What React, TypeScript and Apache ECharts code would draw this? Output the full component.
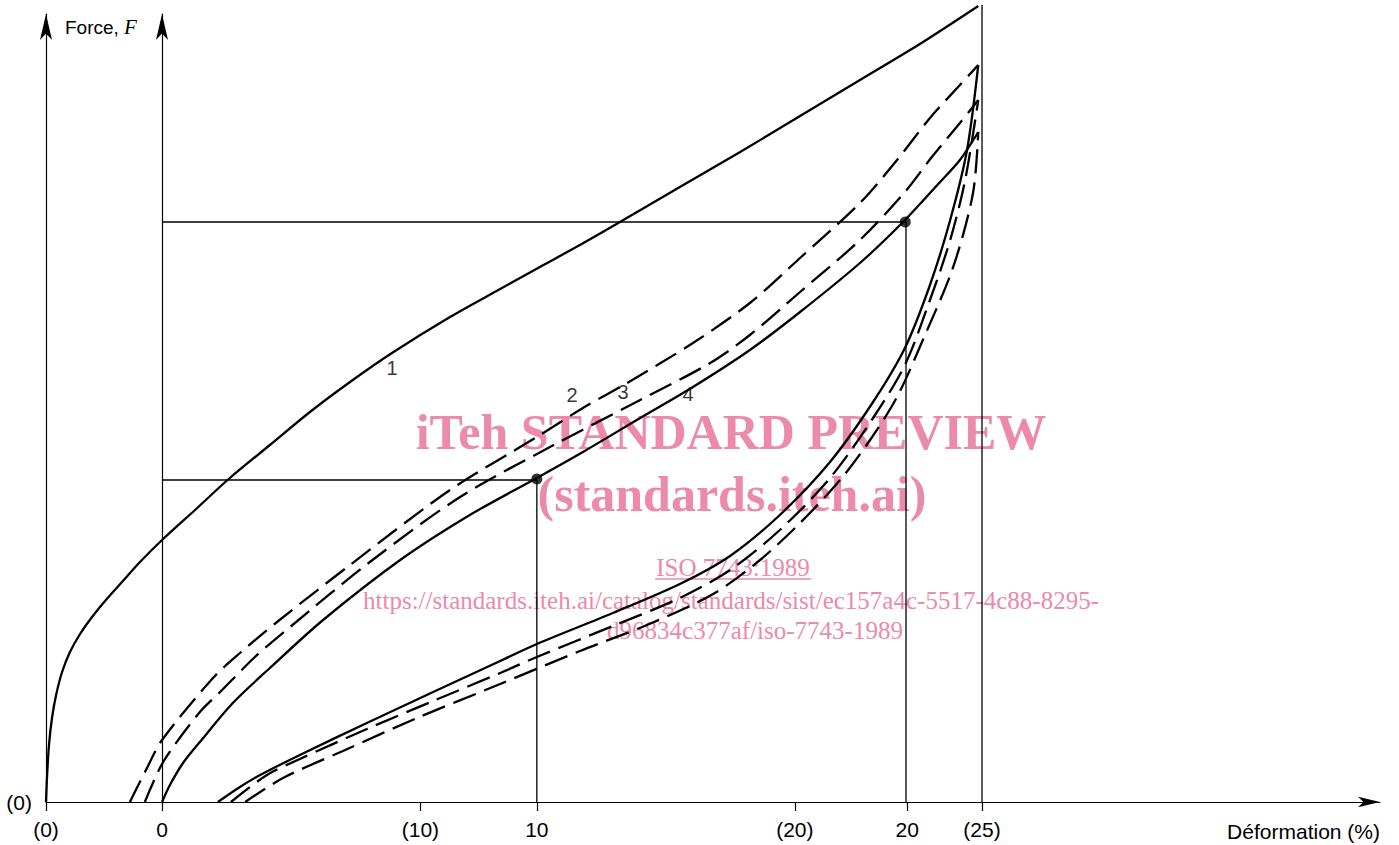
import React, { useEffect, useRef } from "react";
import * as echarts from "echarts";

// x: deformation (%) on the bracketed (outer) scale; y: force (arbitrary units)
const xTickValues = [0, 3.1, 10, 13.11, 20, 23.0, 25];
const xTickLabels = ["(0)", "0", "(10)", "10", "(20)", "20", "(25)"];

const curve1 = [[0,0],[0.03,2.7],[0.08,5.7],[0.16,8.4],[0.27,10.7],[0.43,13.0],[0.64,15.0],[0.91,16.8],[1.23,18.5],[1.60,20.2],[2.03,22.0],[2.51,24.0],[3.10,26.2],[3.98,29.2],[4.91,32.4],[5.98,35.7],[7.05,39.0],[8.12,42.0],[9.24,44.9],[10.79,48.5],[12.13,51.3],[13.19,53.5],[14.26,55.7],[15.33,58.0],[16.93,61.5],[18.54,65.0],[20.14,68.6],[21.74,72.2],[23.34,75.8],[24.9,79.6]];

const curve2 = [[2.24,0],[2.67,3.2],[3.10,6.2],[4.46,12.4],[5.18,14.9],[6.17,18.0],[8.12,23.7],[10.79,31.2],[13.11,36.5],[14.34,39.4],[15.52,41.9],[17.28,45.9],[18.80,49.9],[20.14,54.4],[21.74,59.9],[22.73,64.2],[23.61,68.4],[24.36,71.5],[24.9,73.7]];

const curve3 = [[2.64,0],[3.13,4.0],[4.11,9.0],[4.65,11.0],[5.58,14.5],[6.52,17.5],[8.65,24.0],[11.06,30.5],[13.46,35.5],[15.87,40.2],[17.74,43.9],[18.80,46.7],[20.14,51.0],[21.74,56.2],[22.94,61.0],[23.66,64.5],[24.41,67.9],[24.9,70.2]];

const curve4 = [[3.10,0],[3.31,1.7],[3.66,3.9],[4.11,6.0],[4.99,9.9],[5.98,13.4],[7.40,18.2],[9.46,24.2],[11.32,28.7],[13.11,32.4],[14.34,35.0],[15.87,38.4],[17.28,41.5],[18.80,45.2],[20.14,49.0],[21.74,53.9],[22.89,58.0],[23.88,62.0],[24.41,64.2],[24.9,67.0]];

const unload1 = [[4.59,0],[5.18,1.5],[5.72,2.7],[6.78,4.7],[8.57,7.9],[10.34,11.0],[12.13,14.1],[13.11,15.8],[15.14,18.9],[16.93,21.8],[18.27,24.6],[19.60,28.7],[20.94,34.0],[22.09,40.0],[22.94,45.4],[23.61,51.7],[24.15,58.2],[24.60,65.2],[24.9,73.7]];

const unload2 = [[4.94,0],[5.90,2.7],[6.78,4.3],[8.57,7.3],[10.34,10.1],[12.13,12.9],[13.11,14.5],[15.14,17.6],[16.93,20.4],[18.27,23.2],[19.60,27.2],[20.94,32.4],[22.09,38.4],[22.94,43.7],[23.61,50.2],[24.15,56.2],[24.55,62.2],[24.9,70.2]];

const unload3 = [[5.32,0],[6.33,2.4],[7.93,5.1],[9.91,8.4],[12.13,11.8],[14.26,15.1],[16.05,17.7],[17.82,20.8],[19.07,24.2],[20.14,27.9],[21.21,32.2],[22.01,36.2],[22.73,40.5],[23.42,46.2],[24.23,53.5],[24.76,60.9],[24.9,67.0]];

const refHigh = [[3.10,58.0],[22.97,58.0],[22.97,0]];
const refLow = [[3.10,32.2],[13.11,32.2],[13.11,0]];
const ref25 = [[25,0],[25,79.7]];
const keyPoints = [[13.11,32.3],[22.95,58.0]];
const curveLabels = [
  { name: "1", value: [9.24, 43.4] },
  { name: "2", value: [14.05, 40.7] },
  { name: "3", value: [15.41, 41.0] },
  { name: "4", value: [17.15, 40.8] },
];

const SANS = "'Liberation Sans', Arial, sans-serif";
const SERIF = "'Liberation Serif', 'Times New Roman', serif";
const PINK = "#ec8aa9";

export default function App() {
  const ref = useRef<HTMLDivElement>(null);
  useEffect(() => {
    if (!ref.current) return;
    const chart = echarts.init(ref.current, null, { renderer: "svg" });
    const solid = (data: number[][]) => ({
      type: "line",
      data,
      showSymbol: false,
      smooth: 0.3,
      clip: false,
      z: 3,
      lineStyle: { color: "#000", width: 2.3 },
    });
    const dashed = (data: number[][]) => ({
      type: "line",
      data,
      showSymbol: false,
      smooth: 0.3,
      clip: false,
      z: 3,
      lineStyle: { color: "#000", width: 2.3, type: [24, 9] },
    });
    const thin = (data: number[][]) => ({
      type: "line",
      data,
      showSymbol: false,
      clip: false,
      z: 3,
      lineStyle: { color: "#000", width: 1.3 },
    });
    const fmt = (v: number) => {
      const i = xTickValues.findIndex((t) => Math.abs(t - v) < 1e-6);
      return i >= 0 ? xTickLabels[i] : "";
    };
    const wm = (text: string, x: number, y: number, font: string, lh: number) => ({
      type: "text",
      z: 0,
      x,
      y,
      style: { text, font, fill: PINK, textAlign: "center", textVerticalAlign: "middle", lineHeight: lh },
    });
    chart.setOption({
      animation: false,
      backgroundColor: "#fff",
      grid: { left: 46, right: 19, top: 14, bottom: 43, containLabel: false, outerBoundsMode: "none" },
      xAxis: {
        type: "value",
        min: 0,
        max: 35.63,
        name: "Déformation (%)",
        nameLocation: "end",
        nameGap: 0,
        nameMoveOverlap: false,
        nameTextStyle: { fontFamily: SANS, fontSize: 21, color: "#000", align: "right", verticalAlign: "top", padding: [19, 0, 0, 0] },
        axisLine: { show: true, symbol: ["none", "arrow"], symbolSize: [8, 22], lineStyle: { color: "#000", width: 1.2 } },
        axisTick: { show: true, customValues: xTickValues, length: 9, inside: false, lineStyle: { color: "#000", width: 1.2 } },
        axisLabel: { show: true, customValues: xTickValues, formatter: fmt, margin: 17, fontFamily: SANS, fontSize: 21, color: "#000" },
        splitLine: { show: false },
      },
      yAxis: [
        {
          type: "value",
          min: 0,
          max: 78.8,
          name: "{a|Force, }{b|F}",
          nameLocation: "end",
          nameGap: -13,
          nameMoveOverlap: false,
          nameTextStyle: {
            align: "left",
            verticalAlign: "middle",
            padding: [0, 0, 0, 19],
            rich: {
              a: { fontFamily: SANS, fontSize: 19, color: "#000" },
              b: { fontFamily: SERIF, fontSize: 21, fontStyle: "italic", color: "#000" },
            },
          },
          axisLine: { show: true, symbol: ["none", "arrow"], symbolSize: [9, 26], lineStyle: { color: "#000", width: 1.2 } },
          axisTick: { show: false },
          axisLabel: { show: true, customValues: [0], formatter: () => "(0)", margin: 14, fontFamily: SANS, fontSize: 21, color: "#000" },
          splitLine: { show: false },
        },
        {
          type: "value",
          min: 0,
          max: 78.8,
          position: "left",
          offset: -116,
          axisLine: { show: true, symbol: ["none", "arrow"], symbolSize: [9, 26], lineStyle: { color: "#000", width: 1.2 } },
          axisTick: { show: false },
          axisLabel: { show: false },
          splitLine: { show: false },
        },
      ],
      graphic: [
        wm("iTeh STANDARD PREVIEW", 731, 432, `bold 50px ${SERIF}`, 36),
        wm("(standards.iteh.ai)", 732, 494, `bold 50px ${SERIF}`, 36),
        wm("ISO 7743:1989", 733, 567, `25px ${SERIF}`, 22),
        { type: "line", z: 0, shape: { x1: 655, y1: 579, x2: 811, y2: 579 }, style: { stroke: PINK, lineWidth: 1.3 } },
        wm("https://standards.iteh.ai/catalog/standards/sist/ec157a4c-5517-4c88-8295-", 731, 600, `25px ${SERIF}`, 24),
        wm("d96834c377af/iso-7743-1989", 755, 630, `25px ${SERIF}`, 24),
      ],
      series: [
        solid(curve1),
        dashed(curve2),
        dashed(curve3),
        solid(curve4),
        solid(unload1),
        dashed(unload2),
        dashed(unload3),
        thin(refHigh),
        thin(refLow),
        thin(ref25),
        {
          type: "scatter",
          data: keyPoints,
          symbol: "circle",
          symbolSize: 11,
          z: 4,
          itemStyle: { color: "#000" },
        },
        {
          type: "scatter",
          data: curveLabels,
          symbolSize: 0,
          z: 4,
          label: {
            show: true,
            position: "inside",
            formatter: (p: any) => p.name,
            fontFamily: SANS,
            fontSize: 20,
            lineHeight: 16,
            color: "#000",
          },
        },
      ],
    });
    return () => chart.dispose();
  }, []);
  return <div ref={ref} style={{ position: "absolute", left: 0, top: 0, width: 1399, height: 845 }} />;
}
